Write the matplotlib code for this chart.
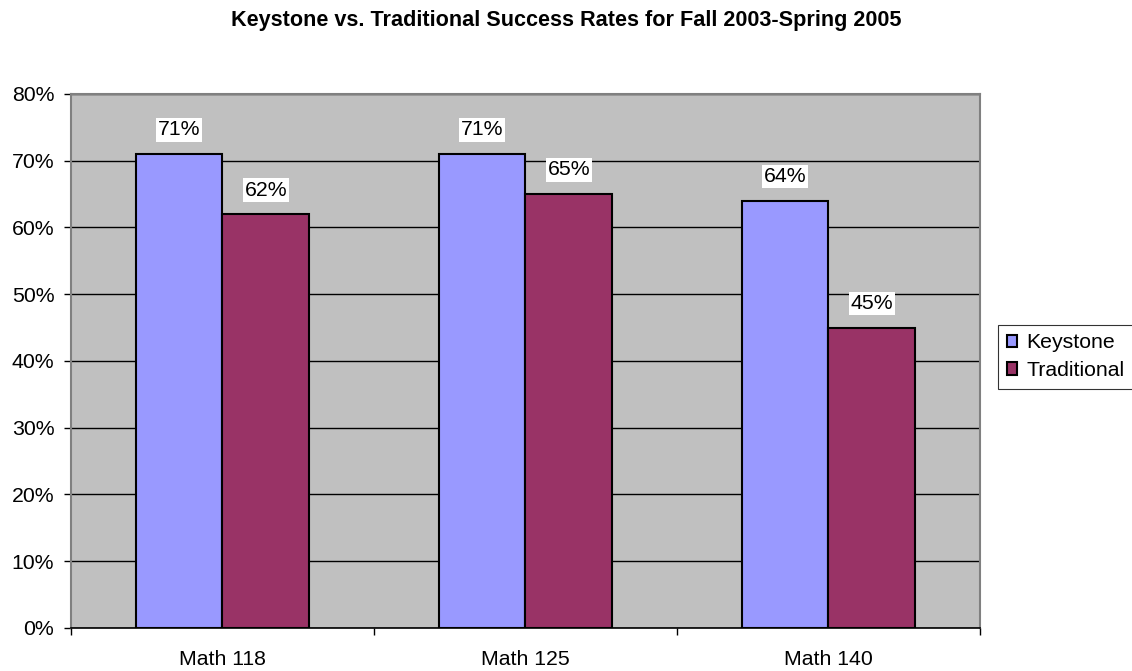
import numpy as np
import matplotlib.pyplot as plt
from matplotlib.ticker import FixedLocator, NullFormatter

plt.rcParams['font.family'] = ['Liberation Sans', 'DejaVu Sans']

# -------------------------
# Data
# -------------------------
courses = ["Math 118", "Math 125", "Math 140"]
keystone = [71, 71, 64]
traditional = [62, 65, 45]
series_names = ["Keystone", "Traditional"]
colors = ["#9999FF", "#993366"]

fs = 15.3

# -------------------------
# Figure
# -------------------------
fig = plt.figure(figsize=(11.32, 6.71), dpi=100)
ax = fig.add_axes([0.0627, 0.0641, 0.8030, 0.7960])
ax.set_facecolor("#C0C0C0")

x = np.arange(len(courses))
w = 0.287
for i, (vals, name, c) in enumerate(zip([keystone, traditional], series_names, colors)):
    pos = x + (i - 0.5) * w
    ax.bar(pos, vals, width=w, color=c, edgecolor="black", linewidth=1.5,
           label=name, zorder=3)
    for p, v in zip(pos, vals):
        ax.text(p, v + 3.6, f"{v}%", ha="center", va="center", fontsize=fs,
                bbox=dict(facecolor="white", edgecolor="none", pad=1.5), zorder=4)

ax.set_xlim(-0.5, len(courses) - 0.5)
ax.set_ylim(0, 80)
ax.set_yticks(np.arange(0, 81, 10))
ax.set_yticklabels([f"{t}%" for t in range(0, 81, 10)], fontsize=fs)
ax.yaxis.grid(True, color="black", linewidth=1, zorder=1)
ax.set_axisbelow(True)

ax.set_xticks(x)
ax.set_xticklabels(courses, fontsize=fs)
ax.xaxis.set_minor_locator(FixedLocator(np.arange(-0.5, len(courses), 1.0)))
ax.xaxis.set_minor_formatter(NullFormatter())
ax.tick_params(axis="x", which="major", length=0, pad=16)
ax.tick_params(axis="x", which="minor", length=5, width=1, direction="out")
ax.tick_params(axis="y", length=5, width=1, direction="out", pad=7)

for s in ["top", "right", "left"]:
    ax.spines[s].set_color("#808080")
    ax.spines[s].set_linewidth(1.5)
ax.spines["bottom"].set_color("black")
ax.spines["bottom"].set_linewidth(1.2)

fig.text(0.5, 1 - 26 / 671, "Keystone vs. Traditional Success Rates for Fall 2003-Spring 2005",
         ha="center", va="baseline", fontsize=15.6, fontweight="bold")

leg = fig.legend(loc="upper left", bbox_to_anchor=(998 / 1132, 1 - 325 / 671), frameon=True,
                 fancybox=False, edgecolor="black", fontsize=fs,
                 handlelength=0.5, handleheight=0.5, handletextpad=0.45,
                 borderpad=0.4, labelspacing=0.4, borderaxespad=0)
leg.get_frame().set_linewidth(0.8)
for h in leg.legend_handles:
    h.set_linewidth(1.5)

fig.savefig("out.png", dpi=100)
